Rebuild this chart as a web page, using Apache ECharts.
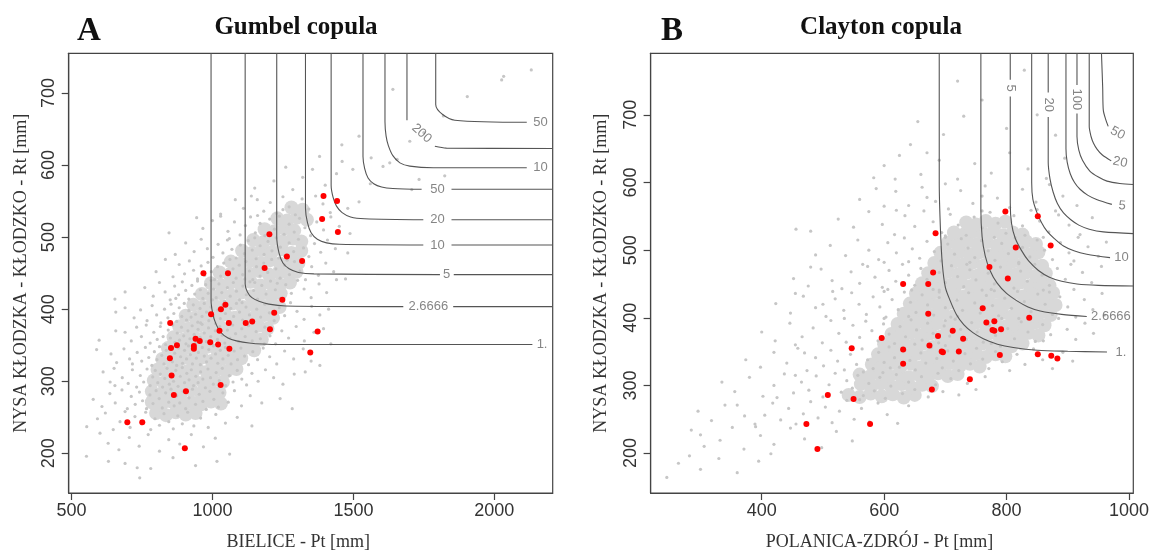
<!DOCTYPE html>
<html><head><meta charset="utf-8">
<script src="https://cdn.jsdelivr.net/npm/echarts@6.0.0/dist/echarts.min.js"></script>
<style>html,body{margin:0;padding:0;background:#fff}#c{width:1153px;height:556px}</style>
</head><body><div id="c"></div>
<script>
// ---------- axis ranges & ticks ----------
const xRangeA = [490, 2207], yRangeA = [145, 755];
const xRangeB = [218.5, 1007], yRangeB = [141, 791];
const xTicksA = [500, 1000, 1500, 2000];
const xTicksB = [400, 600, 800, 1000];
const yTicks = [200, 300, 400, 500, 600, 700];
const levels = ['1.6', '2.6666', '5', '10', '20', '50', '100', '200', '500'];

// ---------- Panel A: Gumbel ----------
const gumbelSim = [
[742,166],[733,180],[781,179],[631,189],[690,186],[1016,189],[860,194],[940,183],
[553,196],[601,228],[630,214],[668,205],[705,222],[740,210],[772,226],[812,203],[845,219],[884,213],[925,226],[968,209],[1010,221],[1061,199],
[554,237],[592,248],[620,256],[648,233],[672,244],[690,258],[708,236],[725,251],[748,241],[763,257],[781,233],[796,248],[812,239],[828,255],[845,244],[861,234],[877,252],[893,241],[912,257],[934,238],[958,249],[985,236],[1012,254],[1046,242],[1088,250],[1140,238],
[577,275],[608,265],[636,283],[655,270],[679,288],[698,262],[712,279],[726,268],[741,285],[752,273],[766,262],[778,281],[789,269],[800,287],[811,276],[822,263],[834,284],[845,271],[853,289],[864,266],[873,280],[884,270],[896,286],[905,262],[917,277],[929,289],[940,268],[953,282],[966,272],[978,261],[991,286],[1005,275],[1021,264],[1037,284],[1056,271],[1078,287],[1103,266],[1134,280],[1175,270],[1240,276],[1283,262],
[612,313],[637,299],[654,294],[651,318],[680,305],[701,297],[716,316],[731,292],[744,308],[756,299],[768,317],[779,294],[788,306],[797,315],[806,298],[815,310],[823,292],[831,304],[839,318],[847,296],[855,309],[862,300],[870,315],[878,293],[886,307],[893,319],[901,298],[909,311],[917,302],[925,316],[933,294],[941,307],[949,298],[958,313],[966,303],[975,291],[984,317],[993,305],[1003,296],[1013,312],[1024,301],[1035,318],[1047,294],[1060,308],[1073,299],[1088,315],[1104,303],[1121,295],[1140,311],[1162,300],[1188,316],[1217,305],[1250,296],[1290,310],[1329,313],
[589,344],[640,338],[660,326],[686,345],[706,331],[716,324],[733,340],[749,328],[762,347],[774,333],[785,322],[794,341],[803,330],[812,348],[820,336],[828,324],[836,343],[843,331],[851,347],[858,327],[866,339],[873,322],[880,346],[887,334],[894,325],[901,343],[908,331],[915,349],[922,337],[929,324],[936,345],[943,332],[950,340],[957,323],[964,347],[971,335],[979,327],[987,344],[995,332],[1003,349],[1011,338],[1019,325],[1028,343],[1037,331],[1046,347],[1056,336],[1066,324],[1077,342],[1089,330],[1101,346],[1114,335],[1128,323],[1143,341],[1160,330],[1180,346],[1203,334],[1228,324],[1256,342],[1288,331],[1322,345],[1350,328],[1381,322],
[598,357],[657,370],[690,368],[712,356],[731,375],[748,362],[765,378],[779,353],[792,368],[804,358],[815,376],[825,362],[834,351],[843,371],[851,360],[859,378],[867,354],[875,367],[883,357],[890,375],[898,363],[906,352],[913,370],[920,359],[928,377],[935,365],[942,354],[949,372],[956,361],[963,379],[971,367],[978,355],[986,374],[994,362],[1002,351],[1010,370],[1018,358],[1026,376],[1035,364],[1044,353],[1053,371],[1062,360],[1072,378],[1082,366],[1093,355],[1104,373],[1116,362],[1128,377],[1141,356],[1155,369],[1170,359],[1186,375],[1204,363],[1224,352],[1246,370],[1270,360],[1297,376],[1326,356],[1360,368],[1394,373],[1420,352],[1184,352],
[657,396],[690,402],[722,388],[745,399],[768,384],[786,405],[802,392],[817,381],[830,400],[842,388],[853,407],[863,394],[873,383],[882,402],[891,390],[900,408],[908,385],[916,398],[924,389],[932,406],[940,393],[948,382],[956,401],[963,390],[971,408],[979,396],[987,384],[995,403],[1003,391],[1011,380],[1019,399],[1028,387],[1037,406],[1046,394],[1055,383],[1065,401],[1075,390],[1085,408],[1096,396],[1107,385],[1119,403],[1131,392],[1144,381],[1157,400],[1171,389],[1186,407],[1202,395],[1219,384],[1237,402],[1256,391],[1277,409],[1300,397],[1325,386],[1352,404],[1381,392],[1412,400],[1105,409],[958,381],
[654,414],[690,424],[760,430],[790,418],[812,437],[832,424],[850,413],[866,432],[880,420],[893,438],[905,426],[916,414],[927,433],[937,421],[947,439],[957,427],[966,415],[976,434],[985,422],[995,440],[1004,428],[1013,416],[1023,435],[1033,423],[1043,411],[1053,430],[1063,418],[1074,437],[1085,425],[1096,413],[1108,432],[1120,420],[1133,438],[1146,426],[1160,414],[1175,433],[1190,421],[1206,439],[1223,427],[1241,415],[1260,434],[1280,422],[1302,440],[1325,428],[1350,416],[1378,435],[1405,423],[1440,441],[1000,413],[1150,437],[870,415],[1230,436],
[800,452],[833,469],[860,445],[882,462],[901,449],[918,467],[933,454],[947,442],[960,460],[972,447],[984,465],[996,452],[1007,441],[1018,459],[1029,446],[1040,464],[1051,451],[1062,469],[1073,456],[1084,443],[1095,461],[1107,448],[1119,466],[1131,453],[1143,441],[1156,459],[1169,446],[1182,464],[1196,451],[1210,469],[1225,456],[1240,443],[1256,461],[1273,448],[1291,466],[1310,453],[1330,441],[1352,459],[1376,447],[1402,464],[1430,452],[1472,442],[1115,442],[1265,468],
[868,476],[905,492],[935,480],[960,497],[982,484],[1002,472],[1020,490],[1037,478],[1053,496],[1069,483],[1084,471],[1099,489],[1113,477],[1127,495],[1141,482],[1155,470],[1169,488],[1183,476],[1197,494],[1211,481],[1226,499],[1241,486],[1256,474],[1272,492],[1288,480],[1305,497],[1323,485],[1342,473],[1362,491],[1384,479],[1408,496],[1436,484],[1480,478],[1150,499],[1060,498],[1235,471],
[846,506],[944,527],[966,512],[1000,523],[1029,529],[1055,508],[1078,521],[1098,503],[1117,516],[1135,528],[1152,506],[1169,519],[1186,502],[1203,525],[1220,511],[1237,529],[1254,504],[1272,518],[1290,507],[1309,526],[1328,513],[1348,502],[1370,521],[1394,510],[1420,528],[1450,515],[1488,505],[1160,530],
[1029,532],[1081,552],[1110,540],[1138,557],[1159,552],[1182,536],[1205,548],[1227,533],[1250,556],[1272,542],[1294,531],[1318,553],[1342,539],[1366,557],[1392,546],[1418,534],[1446,551],[1480,540],[1520,549],[1250,538],
[1218,578],[1355,594],[1498,594],[1707,566],[1733,580],[1824,585],[1150,568],[1285,566],[1320,583],[1400,572],[1440,588],[1560,574],[1605,598],[1260,597],
[1459,628],[1563,610],[1629,603],[1655,608],[1380,612],[1520,640],[1700,633],[1460,605],[1750,645],
[1819,668],[1904,695],[2026,718],[2033,723],[2131,732],[1640,705]
];
const gumbelCore = [
[800,256],[835,253],[870,257],[905,254],[940,256],
[785,271],[820,268],[855,272],[890,269],[925,271],[960,268],[995,272],[1030,269],
[785,286],[820,283],[855,287],[890,284],[925,288],[960,283],[995,286],[1025,284],
[792,301],[827,298],[862,302],[897,299],[932,303],[967,298],[1002,301],[1037,299],
[805,316],[840,313],[875,317],[910,314],[945,318],[980,313],[1015,316],[1050,314],[1085,317],
[822,331],[857,328],[892,332],[927,329],[962,333],[997,328],[1032,331],[1067,329],[1102,332],
[842,346],[877,343],[912,347],[947,344],[982,348],[1017,343],[1052,346],[1087,344],[1122,347],[1148,343],
[862,361],[897,358],[932,362],[967,359],[1002,363],[1037,358],[1072,361],[1107,359],[1142,362],[1175,358],
[882,376],[917,373],[952,377],[987,374],[1022,378],[1057,373],[1092,376],[1127,374],[1162,377],[1195,373],
[905,391],[940,388],[975,392],[1010,389],[1045,393],[1080,388],[1115,391],[1150,389],[1185,392],[1215,388],
[932,406],[967,403],[1002,407],[1037,404],[1072,408],[1107,403],[1142,406],[1177,404],[1212,407],[1238,403],
[962,421],[997,418],[1032,422],[1067,419],[1102,423],[1137,418],[1172,421],[1207,419],[1242,422],
[995,436],[1030,433],[1065,437],[1100,434],[1135,438],[1170,433],[1205,436],[1240,434],[1275,437],
[1025,451],[1060,448],[1095,452],[1130,449],[1165,453],[1200,448],[1235,451],[1270,449],[1298,452],
[1065,466],[1100,463],[1135,467],[1170,464],[1205,468],[1240,463],[1275,466],[1305,464],
[1105,481],[1140,478],[1175,482],[1210,479],[1245,483],[1280,478],[1315,481],
[1145,496],[1180,493],[1215,497],[1250,494],[1285,498],[1315,494],
[1185,511],[1220,508],[1255,512],[1290,509],
[1230,526],[1265,523],[1300,527],[1335,524],
[1280,541],[1320,538]
];
const gumbelObs = [
[1394,557],[1442,550],[1389,525],[1445,507],[1202,504],[1264,473],[1318,467],[1185,457],[968,450],[1055,450],
[1248,413],[1046,406],[1030,400],[995,393],[1219,395],[850,381],[1058,381],[1118,381],[1141,383],[1204,372],
[1025,370],[1373,369],[940,359],[955,356],[992,354],[1020,351],[874,350],[853,346],[934,349],[934,345],
[1060,345],[1347,340],[849,332],[855,308],[1029,295],[863,281],[906,286],[698,243],[751,243],[902,207]
];
// contour segments per return period (same order as levels)
const gumbelContours = [
 [[[995,755],[995,412],[1002,392],[1012,380],[1029,368],[1055,360],[1085,356],[1130,353],[1210,351],[2135,351]]],
 [[[1116,755],[1116,435],[1124,424],[1140,416],[1165,411],[1200,407],[1260,404.5],[1677,403.6]],[[1854,403.6],[2207,403.6]]],
 [[[1228,755],[1228,500],[1236,478],[1250,464],[1272,456],[1305,451],[1360,449],[1807,448]],[[1856,448],[2207,448]]],
 [[[1330,755],[1330,540],[1337,520],[1350,506],[1372,497],[1405,492],[1450,490],[1748,489]],[[1848,489],[2207,489]]],
 [[[1421,755],[1421,572],[1428,555],[1440,543],[1460,534],[1490,528],[1540,525.5],[1748,524]],[[1848,524],[2207,524]]],
 [[[1534,755],[1534,612],[1540,595],[1552,582],[1572,574],[1600,569.5],[1640,567.5],[1742,566.4]],[[1848,566.4],[2207,566.4]]],
 [[[1612,755],[1612,660],[1616,640],[1624,627],[1640,613],[1665,603],[1700,598.5],[1783,596.3],[2115,596.3]]],
 [[[1690,755],[1690,662]],[[1789,626],[1830,623.5],[2207,623]]],
 [[[1792,755],[1792,684],[1860,662.2],[2115,659.4]]]
];
const gumbelLabelAt = [[2150,351],[1766,403.6],[1831,448],[1798,489],[1798,524],[1798,566.4],[2138,596.3],[1742,644],[2138,659.4]];

// ---------- Panel B: Clayton ----------
const claytonSim = [
[245,164],[264,185],[300,176],[330,192],[360,171],[395,188],[415,199],[282,196],
[300,227],[306,210],[285,234],[332,219],[352,238],[371,206],[398,226],[420,213],[447,237],[470,221],[498,208],[522,232],[548,218],[390,239],
[296,262],[318,248],[340,271],[360,271],[372,255],[389,243],[405,256],[418,274],[431,249],[444,266],[456,243],[468,258],[480,276],[492,252],[504,268],[515,245],[527,262],[539,278],[551,250],[563,266],[576,246],[590,274],[605,257],[622,244],[640,270],[560,279],
[335,305],[356,291],[380,312],[402,284],[420,300],[437,317],[452,289],[465,305],[477,293],[489,314],[500,283],[510,301],[520,318],[530,290],[539,307],[548,296],[557,315],[566,285],[575,303],[584,292],[593,312],[602,281],[611,299],[620,316],[630,288],[640,305],[650,294],[661,313],[672,283],[684,301],[696,291],[709,310],[722,286],[736,303],[750,294],[765,313],[455,315],[425,282],[598,319],[688,318],
[374,338],[398,327],[420,349],[441,333],[459,355],[474,322],[488,341],[501,329],[513,352],[524,336],[535,323],[545,346],[555,331],[564,354],[573,338],[582,325],[591,349],[600,334],[608,357],[617,341],[625,327],[634,352],[642,337],[651,323],[660,348],[668,333],[677,356],[686,340],[695,326],[704,351],[713,336],[722,322],[732,347],[741,332],[751,355],[761,339],[771,325],[782,350],[793,335],[805,322],[817,346],[830,331],[844,354],[859,338],[875,325],[892,349],[908,336],[610,326],[700,359],[470,348],[790,358],[566,320],
[400,379],[422,366],[446,392],[466,372],[484,385],[499,363],[513,396],[526,377],[538,364],[549,389],[560,371],[570,395],[580,381],[590,366],[599,391],[608,376],[617,362],[626,387],[635,372],[644,397],[653,382],[662,367],[671,392],[680,377],[689,363],[698,388],[707,373],[716,398],[725,383],[734,368],[743,393],[752,379],[762,364],[772,389],[782,374],[792,399],[802,384],[813,369],[824,394],[835,379],[847,365],[859,390],[872,375],[885,399],[899,383],[913,368],[928,392],[942,377],[535,399],[650,361],[775,362],[860,366],[455,360],[600,399],[700,396],[820,399],
[423,421],[447,407],[468,432],[488,415],[505,402],[520,428],[534,411],[547,437],[559,420],[571,405],[582,431],[593,416],[603,401],[613,427],[623,412],[633,438],[643,423],[652,408],[662,434],[671,419],[681,404],[690,430],[700,415],[709,401],[719,426],[728,411],[738,437],[748,422],[757,407],[767,433],[777,418],[787,403],[797,429],[808,414],[818,439],[829,424],[840,409],[851,435],[863,420],[875,405],[887,431],[900,416],[913,401],[927,427],[941,412],[956,436],[516,439],[600,439],[690,438],[780,440],[870,438],[720,402],[640,402],[455,436],[960,404],[500,420],
[452,458],[476,447],[497,472],[515,455],[531,443],[546,468],[560,451],[573,476],[585,460],[597,445],[608,470],[619,454],[630,479],[640,463],[650,448],[660,473],[670,457],[680,442],[690,467],[700,452],[710,477],[720,461],[730,446],[740,471],[750,456],[760,441],[770,466],[780,450],[790,475],[801,459],[812,444],[823,469],[834,454],[846,479],[858,463],[870,448],[883,473],[896,457],[910,442],[924,467],[939,452],[955,476],[565,479],[645,441],[735,479],[820,480],[905,479],[480,475],[606,442],[690,441],[775,442],[860,441],
[488,493],[512,507],[537,492],[557,515],[575,500],[591,486],[606,511],[620,496],[633,518],[646,502],[658,488],[670,513],[682,498],[693,484],[704,509],[715,494],[726,517],[737,503],[748,489],[759,514],[770,499],[781,485],[792,510],[803,495],[814,518],[826,504],[838,490],[850,515],[862,500],[875,486],[888,511],[902,496],[917,519],[933,505],[950,491],[963,512],[600,482],[700,519],[780,519],[860,519],[640,483],[740,482],[820,482],[910,484],
[480,528],[456,531],[525,546],[550,534],[575,557],[597,538],[617,523],[634,551],[650,535],[665,558],[680,542],[694,526],[708,553],[721,537],[734,522],[747,549],[760,533],[773,556],[786,540],[799,525],[812,551],[826,536],[840,559],[854,543],[869,527],[885,552],[902,537],[920,523],[940,548],[700,521],[760,558],[830,522],[880,558],[620,559],
[560,575],[587,591],[619,587],[640,566],[662,593],[684,572],[705,561],[725,588],[745,569],[765,595],[785,577],[805,563],[826,590],[848,571],[870,597],[892,580],[915,566],[700,598],[760,580],[850,560],[600,565],[670,578],
[600,625],[625,640],[660,612],[690,633],[720,605],[748,628],[775,614],[805,644],[835,620],[865,606],[895,636],[670,644],[583,607],[618,605],
[643,656],[697,671],[730,698],[760,722],[829,766],[655,690],[800,680],[850,700],[720,750],[880,670]
];
const claytonCore = [
[542,286],[560,283],[578,288],[596,284],[614,287],[632,282],[650,286],
[562,302],[579,298],[595,303],[611,299],[628,302],[645,297],[662,301],[678,299],
[560,316],[576,313],[592,318],[608,314],[624,317],[640,312],[656,316],[672,313],[688,318],[704,314],[720,317],
[580,331],[596,328],[612,333],[628,329],[644,332],[660,327],[676,331],[692,328],[708,333],[724,329],[740,332],[756,328],
[590,346],[606,343],[622,348],[638,344],[654,347],[670,342],[686,346],[702,343],[718,348],[734,344],[750,347],[766,342],[782,346],[798,343],
[600,361],[616,358],[632,363],[648,359],[664,362],[680,357],[696,361],[712,358],[728,363],[744,359],[760,362],[776,357],[792,361],[808,358],[826,362],
[612,376],[628,373],[644,378],[660,374],[676,377],[692,372],[708,376],[724,373],[740,378],[756,374],[772,377],[788,372],[804,376],[820,373],[836,378],[852,374],
[622,391],[638,388],[654,393],[670,389],[686,392],[702,387],[718,391],[734,388],[750,393],[766,389],[782,392],[798,387],[814,391],[830,388],[846,393],[862,389],
[632,406],[648,403],[664,408],[680,404],[696,407],[712,402],[728,406],[744,403],[760,408],[776,404],[792,407],[808,402],[824,406],[840,403],[856,408],[872,404],
[642,421],[658,418],[674,423],[690,419],[706,422],[722,417],[738,421],[754,418],[770,423],[786,419],[802,422],[818,417],[834,421],[850,418],[866,423],[880,419],
[652,436],[668,433],[684,438],[700,434],[716,437],[732,432],[748,436],[764,433],[780,438],[796,434],[812,437],[828,432],[844,436],[860,433],[876,437],
[662,451],[678,448],[694,453],[710,449],[726,452],[742,447],[758,451],[774,448],[790,453],[806,449],[822,452],[838,447],[854,451],[870,448],
[672,466],[688,463],[704,468],[720,464],[736,467],[752,462],[768,466],[784,463],[800,468],[816,464],[832,467],[848,462],[864,466],
[682,481],[698,478],[714,483],[730,479],[746,482],[762,477],[778,481],[794,478],[810,483],[826,479],[842,482],[858,477],
[692,496],[708,493],[724,498],[740,494],[756,497],[772,492],[788,496],[804,493],[820,498],[836,494],[852,497],
[704,511],[720,508],[736,513],[752,509],[768,512],[784,507],[800,511],[816,508],[832,513],[848,509],
[714,526],[730,523],[746,528],[762,524],[778,527],[794,522],[810,526],[826,523],
[734,541],[750,538],[766,543],[782,539],[798,542]
];
const claytonObs = [
[798,557],[851,550],[684,525],[815,504],[872,507],[772,475],[680,467],[802,458],[631,450],[672,450],
[761,414],[672,406],[837,400],[767,393],[780,395],[777,382],[780,381],[791,383],[712,381],[688,373],
[729,369],[596,370],[674,359],[547,355],[631,353],[694,350],[696,349],[722,350],[789,345],[851,346],
[873,344],[883,340],[631,332],[740,309],[678,294],[508,286],[550,280],[473,243],[577,243],[491,206]
];
const claytonContours = [
 [[[690,791],[690,600],[692,530],[695,480],[700,445],[708,425],[718,405],[730,390],[745,378],[762,369],[785,361],[811,356],[850,352],[900,350.5],[964,349.5]]],
 [[[758,791],[758,560],[760,520],[765,492],[773,470],[784,452],[800,436],[817,425],[835,416],[855,410],[890,405],[931,402]]],
 [[[806,791],[806,752]],[[806,727],[806,570],[808,540],[814,518],[824,500],[836,484],[852,470],[870,460],[890,454],[915,450],[950,448],[1007,447]]],
 [[[841,791],[841,600],[843,575],[849,557],[857,541],[866,528],[878,517],[893,506],[910,499],[931,494],[969,489]]],
 [[[868,791],[868,733]],[[868,697],[868,630],[871,605],[876,586],[883,569],[893,555],[905,545],[918,537],[935,531],[958,527],[1007,524.5]]],
 [[[897,791],[897,650],[899,630],[904,613],[911,600],[920,590],[933,581],[947,575],[972,567.7]]],
 [[[915,791],[915,744]],[[915,702],[915,668],[918,648],[924,633],[936,617],[950,608],[964,602],[985,598.5],[1007,597]]],
 [[[935,791],[935,683],[938,668],[942,658],[948,649],[956,641],[971,632]]],
 [[[955,791],[957,740],[958,707],[962,693],[966,683]]]
];
const claytonLabelAt = [[978,349.5],[938,402],[806,739.5],[976,489.2],[868,715],[983,566],[915,723],[974,632],[971,678]];

// ---------- layout & styles ----------
const grids = [
  {left: 68.7, top: 53.3, width: 484, height: 441.7},
  {left: 650.6, top: 53.3, width: 482.7, height: 441.7}
];
const TICK_FONT = 'Liberation Sans, Arial, sans-serif';
const SERIF = 'Liberation Serif, Times New Roman, serif';
// label styles: mode 'c' centered, 'l' left-anchored (clipped at box edge), r rotation
const gumbelLabelStyle = [
  {m:'l'},{m:'c'},{m:'c'},{m:'c'},{m:'c'},{m:'c'},{m:'l'},{m:'c', r:-42},{m:'l'}
];
const claytonLabelStyle = [
  {m:'l'},{m:'l', extra:4},{m:'c', r:-90},{m:'l'},{m:'c', r:-90},{m:'l', r:-5},{m:'c', r:-90},{m:'l', r:-12},{m:'l', r:-28}
];
const plain = v => String(v);

function xAxisCfg(gi, range, ticks, name) {
  return {
    type: 'value', gridIndex: gi, min: range[0], max: range[1],
    axisLine: {show: true, onZero: false, lineStyle: {color: '#444', width: 1.2}},
    axisTick: {show: true, length: 7, customValues: ticks, lineStyle: {color: '#444', width: 1.2}},
    axisLabel: {customValues: ticks, formatter: plain, margin: 9, fontSize: 18, color: '#333', fontFamily: TICK_FONT},
    splitLine: {show: false},
    name: name, nameLocation: 'middle', nameGap: 40,
    nameTextStyle: {fontFamily: SERIF, fontSize: 18, color: '#333', padding: [0, 25, 0, 0]}
  };
}
function yAxisCfg(gi, range, ticks, name, gap) {
  return {
    type: 'value', gridIndex: gi, min: range[0], max: range[1],
    axisLine: {show: true, onZero: false, lineStyle: {color: '#444', width: 1.2}},
    axisTick: {show: true, length: 7, customValues: ticks, lineStyle: {color: '#444', width: 1.2}},
    axisLabel: {customValues: ticks, formatter: plain, margin: 11, rotate: 90, fontSize: 18, color: '#333', fontFamily: TICK_FONT},
    splitLine: {show: false},
    name: name, nameLocation: 'middle', nameGap: gap,
    nameTextStyle: {fontFamily: SERIF, fontSize: 18, color: '#333'}
  };
}

function panelSeries(gi, core, sim, obs, contours, labelAt, labelStyle, xr, coreSize) {
  const out = [];
  out.push({type: 'scatter', xAxisIndex: gi, yAxisIndex: gi, data: core, symbolSize: coreSize, silent: true,
            itemStyle: {color: '#d8d8d8', opacity: 1, borderWidth: 0}, z: 1});
  out.push({type: 'scatter', xAxisIndex: gi, yAxisIndex: gi, data: sim, symbolSize: 3.2, silent: true,
            itemStyle: {color: '#c6c6c6', opacity: 1}, z: 2});
  contours.forEach(segs => segs.forEach(seg => out.push({
    type: 'line', xAxisIndex: gi, yAxisIndex: gi, data: seg, showSymbol: false, symbol: 'none',
    smooth: 0.3, silent: true, clip: true, lineStyle: {color: '#555', width: 1.1}, z: 3
  })));
  const ppu = grids[gi].width / (xr[1] - xr[0]);
  const lbl = levels.map((t, i) => {
    const st = labelStyle[i];
    const label = {show: true, formatter: t, fontSize: 13, color: '#666', fontFamily: TICK_FONT};
    if (st.m === 'l') {
      Object.assign(label, {position: 'right', distance: 0, align: 'left',
        width: Math.max(4, (xr[1] - labelAt[i][0]) * ppu - 1 + (st.extra || 0)), overflow: 'truncate', ellipsis: ''});
    } else {
      Object.assign(label, {position: 'inside', align: 'center', verticalAlign: 'middle'});
    }
    if (st.r) label.rotate = st.r;
    return {name: t, value: labelAt[i], label: label};
  });
  out.push({type: 'scatter', xAxisIndex: gi, yAxisIndex: gi, data: lbl, symbolSize: 0, silent: true, z: 4});
  out.push({type: 'scatter', xAxisIndex: gi, yAxisIndex: gi, data: obs, symbolSize: 6, silent: true,
            itemStyle: {color: '#ff0000', opacity: 1}, z: 5});
  return out;
}

const chart = echarts.init(document.getElementById('c'), null, {renderer: 'canvas'});
chart.setOption({
  animation: false,
  backgroundColor: '#fff',
  title: [
    {text: 'A', left: 77, top: 15, padding: 0, textStyle: {fontFamily: SERIF, fontWeight: 'bold', fontSize: 33, color: '#111'}},
    {text: 'Gumbel copula', left: 296, top: 15, padding: 0, textAlign: 'center', textStyle: {fontFamily: SERIF, fontWeight: 'bold', fontSize: 25, color: '#111'}},
    {text: 'B', left: 661, top: 15, padding: 0, textStyle: {fontFamily: SERIF, fontWeight: 'bold', fontSize: 33, color: '#111'}},
    {text: 'Clayton copula', left: 881, top: 15, padding: 0, textAlign: 'center', textStyle: {fontFamily: SERIF, fontWeight: 'bold', fontSize: 25, color: '#111'}}
  ],
  grid: grids.map(g => Object.assign({show: true, borderColor: '#444', borderWidth: 1.2, backgroundColor: 'transparent'}, g)),
  xAxis: [xAxisCfg(0, xRangeA, xTicksA, 'BIELICE - Pt [mm]'), xAxisCfg(1, xRangeB, xTicksB, 'POLANICA-ZDRÓJ - Pt [mm]')],
  yAxis: [yAxisCfg(0, yRangeA, yTicks, 'NYSA KŁODZKA - KŁODZKO - Rt [mm]', 38),
          yAxisCfg(1, yRangeB, yTicks, 'NYSA KŁODZKA - KŁODZKO - Rt [mm]', 40)],
  series: [].concat(
    panelSeries(0, gumbelCore, gumbelSim, gumbelObs, gumbelContours, gumbelLabelAt, gumbelLabelStyle, xRangeA, 14),
    panelSeries(1, claytonCore, claytonSim, claytonObs, claytonContours, claytonLabelAt, claytonLabelStyle, xRangeB, 14)
  )
});
</script></body></html>
